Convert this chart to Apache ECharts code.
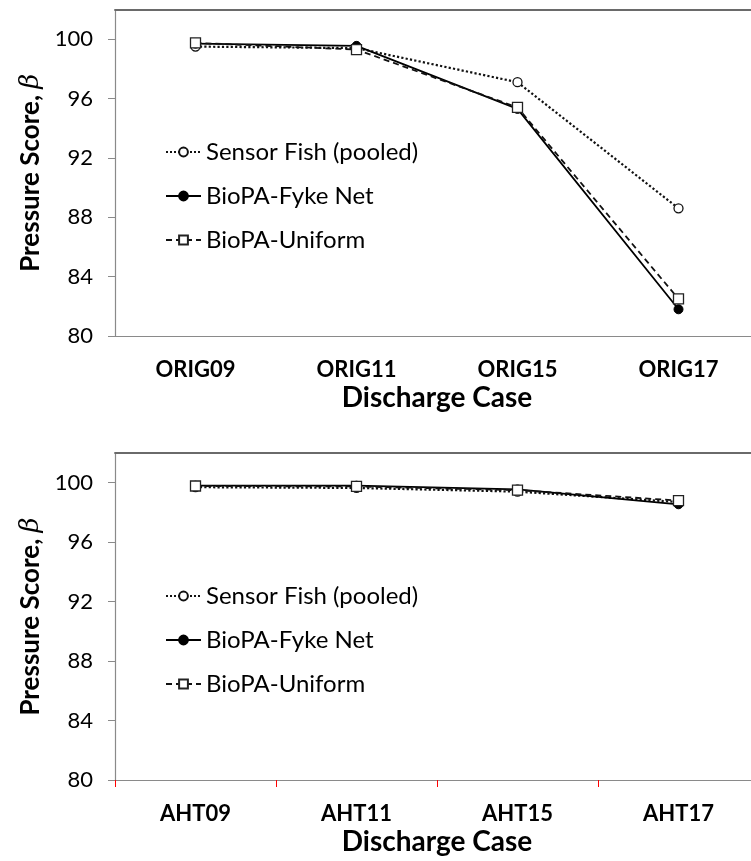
<!DOCTYPE html>
<html><head><meta charset="utf-8">
<script src="https://cdn.jsdelivr.net/npm/echarts@6/dist/echarts.min.js"></script>
<style>html,body{margin:0;padding:0;background:#fff}#c{width:751px;height:861px}</style>
</head><body><div id="c"></div>
<script>
const topCategories = ['ORIG09', 'ORIG11', 'ORIG15', 'ORIG17'];
const bottomCategories = ['AHT09', 'AHT11', 'AHT15', 'AHT17'];
const seriesNames = ['Sensor Fish (pooled)', 'BioPA-Fyke Net', 'BioPA-Uniform'];
const topSensorFish = [99.5, 99.4, 97.1, 88.6];
const topFykeNet = [99.7, 99.55, 95.3, 81.8];
const topUniform = [99.75, 99.3, 95.4, 82.5];
const bottomSensorFish = [99.7, 99.65, 99.4, 98.7];
const bottomFykeNet = [99.8, 99.8, 99.55, 98.55];
const bottomUniform = [99.78, 99.75, 99.5, 98.8];
const yTicks = [80, 84, 88, 92, 96, 100];
const yMin = 80, yMax = 102, yStep = 4;

const FONT = 'Lato, "Open Sans", sans-serif';
const chart = echarts.init(document.getElementById('c'), null, {renderer: 'canvas'});

const styles = [
  {lineStyle: {type: 'dotted', width: 2.2, color: '#111'}, symbol: 'circle', symbolSize: 9,
   itemStyle: {color: '#fff', borderColor: '#111', borderWidth: 1.3}},
  {lineStyle: {type: 'solid', width: 1.8, color: '#000'}, symbol: 'circle', symbolSize: 9,
   itemStyle: {color: '#000', borderColor: '#000', borderWidth: 1}},
  {lineStyle: {type: [6, 4], width: 1.8, color: '#111'}, symbol: 'rect', symbolSize: 10,
   itemStyle: {color: '#fff', borderColor: '#222', borderWidth: 1.3}}
];

function mkY(gridIndex) {
  return {
    type: 'value', gridIndex, min: yMin, max: yMax, interval: yStep,
    name: 'Pressure Score, {b|β}', nameLocation: 'middle', nameGap: 43, nameRotate: 90,
    nameTextStyle: {fontFamily: FONT, fontWeight: 'bold', fontSize: 26, color: '#000',
      rich: {b: {fontFamily: '"DejaVu Serif", serif', fontStyle: 'italic', fontWeight: 'normal', fontSize: 26, color: '#000'}}},
    axisLine: {show: true, onZero: false, lineStyle: {color: '#8a8a8a', width: 1.2}},
    axisTick: {show: true, length: 7, lineStyle: {color: '#8a8a8a'}},
    axisLabel: {fontFamily: FONT, fontSize: 22, color: '#000', margin: 22, showMaxLabel: false,
      formatter: v => (yTicks.indexOf(v) >= 0 ? String(v) : '')},
    splitLine: {show: false}
  };
}
function mkX(gridIndex, cats, tickShow) {
  return {
    type: 'category', gridIndex, data: cats, boundaryGap: true, position: 'bottom',
    name: 'Discharge Case', nameLocation: 'middle', nameGap: 48,
    nameTextStyle: {fontFamily: FONT, fontWeight: 'bold', fontSize: 28, color: '#000'},
    axisLine: {show: true, onZero: false, lineStyle: {color: '#8a8a8a', width: 1.2}},
    axisTick: {show: tickShow, length: 7, alignWithLabel: false, lineStyle: {color: 'red'}},
    axisLabel: {fontFamily: FONT, fontWeight: 'bold', fontSize: 22, color: '#000', margin: 23},
    splitLine: {show: false}
  };
}
function mkTopFrame(gridIndex, cats) {
  return {
    type: 'category', gridIndex, data: cats, position: 'top', boundaryGap: true,
    axisLine: {show: true, onZero: false, lineStyle: {color: '#6a6a6a', width: 1.8}},
    axisTick: {show: false}, axisLabel: {show: false}, splitLine: {show: false}
  };
}
function mkSeries(idx, data, axisIndex) {
  return Object.assign({
    type: 'line', name: seriesNames[idx], data, xAxisIndex: axisIndex, yAxisIndex: axisIndex,
    showSymbol: true, animation: false, z: 3 + idx
  }, JSON.parse(JSON.stringify(styles[idx])));
}

const legendBase = {
  orient: 'vertical', left: 165, padding: 0, itemWidth: 35, itemHeight: 11, itemGap: 20,
  data: seriesNames, selectedMode: false,
  textStyle: {fontFamily: FONT, fontSize: 24, color: '#000', lineHeight: 24}
};

chart.setOption({
  backgroundColor: '#fff',
  animation: false,
  grid: [
    {left: 115, top: 9.5, width: 644, height: 326.5, show: false, outerBoundsMode: 'none', containLabel: false},
    {left: 115, top: 453, width: 644, height: 327, show: false, outerBoundsMode: 'none', containLabel: false}
  ],
  xAxis: [mkX(0, topCategories, false), mkX(1, bottomCategories, true), mkTopFrame(0, topCategories), mkTopFrame(1, bottomCategories)],
  yAxis: [mkY(0), mkY(1)],
  legend: [
    Object.assign({}, legendBase, {top: 140}),
    Object.assign({}, legendBase, {top: 584})
  ],
  series: [
    mkSeries(0, topSensorFish, 0), mkSeries(1, topFykeNet, 0), mkSeries(2, topUniform, 0),
    mkSeries(0, bottomSensorFish, 1), mkSeries(1, bottomFykeNet, 1), mkSeries(2, bottomUniform, 1)
  ]
});
</script></body></html>
